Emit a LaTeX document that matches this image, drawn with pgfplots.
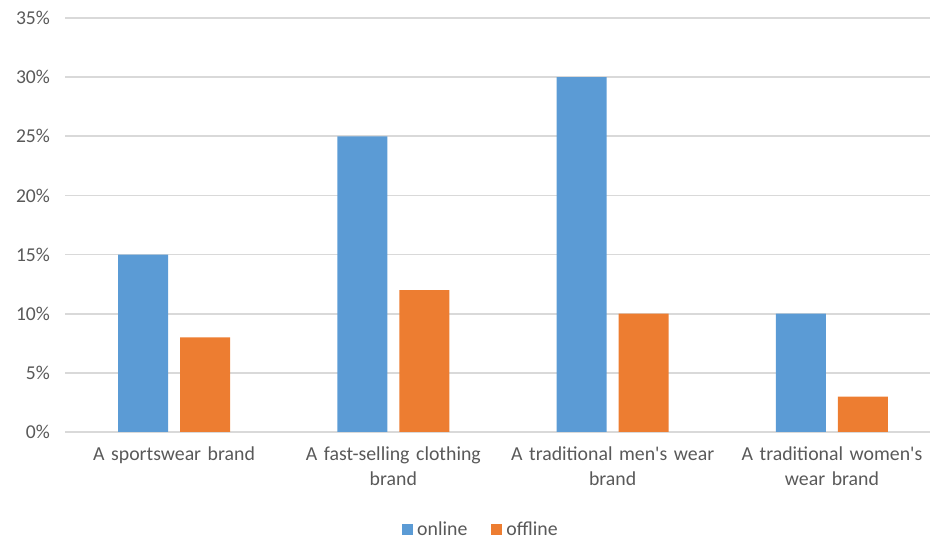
\documentclass[border=0pt]{standalone}
\usepackage{pgfplots}
\pgfplotsset{compat=1.18}
\usepackage{fontspec}
\setmainfont{Carlito}
\definecolor{txt}{HTML}{595959}
\definecolor{gridc}{HTML}{D9D9D9}
\definecolor{cblue}{HTML}{5B9BD5}
\definecolor{corange}{HTML}{ED7D31}
\begin{document}
\begin{tikzpicture}
\useasboundingbox (0,0) rectangle (466.5pt,270.5pt);
\begin{axis}[
  at={(32.5pt,54.5pt)}, anchor=south west,
  scale only axis, width=432.5pt, height=207pt,
  ybar=6pt, bar width=25pt,
  xmin=-0.497, xmax=3.447, ymin=0, ymax=35,
  xtick={0,1,2,3},
  xticklabels={{A sportswear brand},{A fast-selling clothing\\brand},{A traditional men\textquotesingle s wear\\brand},{A traditional women\textquotesingle s\\wear brand}},
  xticklabel style={align=center, text width=140pt, font=\fontsize{9.9}{12.5}\selectfont, text=txt, anchor=north, yshift=-4pt},
  ytick={0,5,...,35},
  yticklabel={\pgfmathprintnumber{\tick}\%},
  yticklabel style={font=\fontsize{9.8}{11}\selectfont, text=txt, xshift=-4pt},
  /pgf/number format/assume math mode=true,
  major tick length=0pt,
  ymajorgrids, grid style={gridc, line width=0.9pt},
  axis x line*=bottom, axis y line*=left,
  x axis line style={gridc, line width=0.9pt, -},
  y axis line style={draw=none},
  legend style={at={(0.482,-0.236)}, anchor=center, draw=none, legend columns=2,
    font=\fontsize{9.9}{11}\selectfont, text=txt,
    /tikz/every even column/.append style={column sep=10pt}},
  legend image code/.code={\fill[#1] (0pt,-2.75pt) rectangle (5.5pt,2.75pt);},
]
\addplot[fill=cblue, draw=none] coordinates {(0,15) (1,25) (2,30) (3,10)};
\addplot[fill=corange, draw=none] coordinates {(0,8) (1,12) (2,10) (3,3)};
\legend{online, offline}
\end{axis}
\end{tikzpicture}
\end{document}
